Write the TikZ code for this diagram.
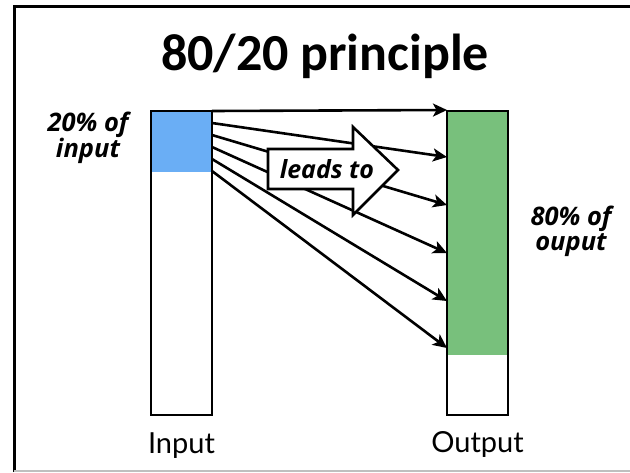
\documentclass[tikz,border=0pt]{standalone}
\usepackage{fontspec}
\setmainfont{Carlito}
\newfontfamily\labelfont{Lato}
\newfontfamily\tagfont{Open Sans}
\usetikzlibrary{arrows.meta}
\definecolor{inblue}{HTML}{6AAEF5}
\definecolor{outgreen}{HTML}{78C07C}
\begin{document}
\begin{tikzpicture}[x=1pt,y=-1pt,
  bar/.style={draw=black, line width=2pt, minimum width=61pt, minimum height=304pt, anchor=north west, inner sep=0pt, outer sep=0pt},
  share/.style={inner sep=0pt, outer sep=0pt, anchor=north west, minimum width=61pt},
  flow/.style={line width=2.6pt, -{Stealth[length=14pt,width=13pt,inset=3.5pt]}},
  lbl/.style={font=\tagfont\bfseries\itshape\fontsize{25.5}{25}\selectfont, align=center, inner sep=0pt},
  axis/.style={font=\labelfont\fontsize{29}{29}\selectfont, inner sep=0pt, anchor=base}]
\useasboundingbox (0,0) rectangle (630,472);
\fill[white] (0,0) rectangle (630,472);
% frame
\draw[line width=3pt] (14,472) -- (14,6) -- (630,6);
\draw[black!25, line width=1.5pt] (14,471) -- (630,471);
% title
\node[font=\bfseries\fontsize{52}{52}\selectfont, anchor=base, inner sep=0pt] (title) at (325,70) {80/20 principle};
% bars
\node[share, fill=inblue, minimum height=61pt] (inshare) at (151,111) {};
\node[share, fill=outgreen, minimum height=244pt] (outshare) at (447,111) {};
\node[bar] (inbar) at (151,111) {};
\node[bar] (outbar) at (447,111) {};
% flow arrows
\foreach \i/\ys/\ye in {1/111/110, 2/123/157, 3/135/205, 4/147/253, 5/159/301, 6/171/348} {
  \coordinate (s\i) at (212,\ys);
  \coordinate (e\i) at (447,\ye);
  \draw[flow] (s\i) -- (e\i);
}
% big arrow
\draw[line width=2.6pt, fill=white, line join=miter]
  (268,149) -- (353,149) -- (353,127) -- (398,170) -- (353,215) -- (353,189) -- (268,189) -- cycle;
\node[font=\tagfont\bfseries\itshape\fontsize{25}{25}\selectfont, anchor=base, inner sep=0pt] (leads) at (327,178) {leads to};
% labels
\node[lbl] (inlbl) at (88,138) {20\% of\\input};
\node[lbl] (outlbl) at (571,231) {80\% of\\ouput};
\node[axis] (inname) at (181.5,453) {Input};
\node[axis] (outname) at (477.5,452) {Output};
\end{tikzpicture}
\end{document}
